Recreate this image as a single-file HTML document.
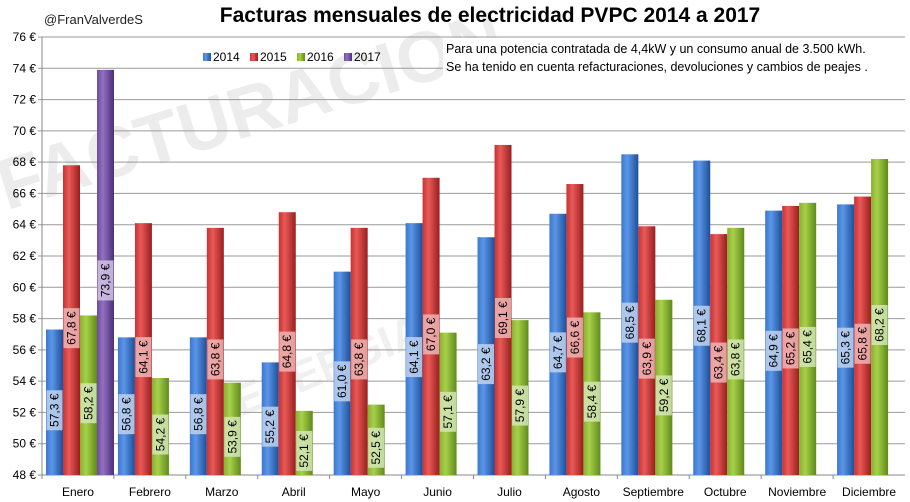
<!DOCTYPE html>
<html><head><meta charset="utf-8">
<style>
html,body{margin:0;padding:0;background:#fff;}
svg{display:block;font-family:"Liberation Sans",sans-serif;}
</style></head>
<body>
<svg id="chart" width="910" height="502" viewBox="0 0 910 502">
<defs>
<linearGradient id="g0" x1="0" x2="1"><stop offset="0" stop-color="#3a78d0"/><stop offset="0.35" stop-color="#5b96e6"/><stop offset="1" stop-color="#1d4f9a"/></linearGradient>
<linearGradient id="g1" x1="0" x2="1"><stop offset="0" stop-color="#c83232"/><stop offset="0.35" stop-color="#e85a58"/><stop offset="1" stop-color="#9a1e1e"/></linearGradient>
<linearGradient id="g2" x1="0" x2="1"><stop offset="0" stop-color="#86b02e"/><stop offset="0.35" stop-color="#a8d04a"/><stop offset="1" stop-color="#5f8a1a"/></linearGradient>
<linearGradient id="g3" x1="0" x2="1"><stop offset="0" stop-color="#6e4a9c"/><stop offset="0.35" stop-color="#9272c0"/><stop offset="1" stop-color="#4c2e78"/></linearGradient>
</defs>
<text x="250" y="135" font-size="72" font-weight="bold" fill="#ececec" transform="rotate(-17 250 110)" text-anchor="middle">FACTURACION</text>
<text x="330" y="380" font-size="44" font-weight="bold" fill="#f0f0f0" transform="rotate(-22 330 370)" text-anchor="middle">ENERGIA</text>
<g id="grid"></g>
<g id="bars"></g>
<g id="labels"></g>
<text x="44" y="24" font-size="13" fill="#222">@FranValverdeS</text>
<text x="490" y="22" font-size="21" font-weight="bold" text-anchor="middle" fill="#000">Facturas mensuales de electricidad PVPC  2014 a 2017</text>
<rect x="443" y="38" width="462" height="40" fill="#fff"/>
<text x="446" y="53" font-size="12.5" fill="#000">Para una potencia contratada de 4,4kW y un consumo anual de 3.500 kWh.</text>
<text x="446" y="71" font-size="12.5" fill="#000">Se ha tenido en cuenta refacturaciones, devoluciones y cambios de peajes .</text>
<g id="legend"></g>
</svg>
<script>
const categories=["Enero","Febrero","Marzo","Abril","Mayo","Junio","Julio","Agosto","Septiembre","Octubre","Noviembre","Diciembre"];
const seriesNames=["2014","2015","2016","2017"];
const s2014=[57.3,56.8,56.8,55.2,61.0,64.1,63.2,64.7,68.5,68.1,64.9,65.3];
const s2015=[67.8,64.1,63.8,64.8,63.8,67.0,69.1,66.6,63.9,63.4,65.2,65.8];
const s2016=[58.2,54.2,53.9,52.1,52.5,57.1,57.9,58.4,59.2,63.8,65.4,68.2];
const s2017=[73.9,null,null,null,null,null,null,null,null,null,null,null];
const yTicks=[48,50,52,54,56,58,60,62,64,66,68,70,72,74,76];
const series=[s2014,s2015,s2016,s2017];
const NS="http://www.w3.org/2000/svg";
const X0=42,X1=905,Y0=475,Y1=37,YMIN=48,YMAX=76;
const catW=(X1-X0)/categories.length;
const y=v=>Y0-(v-YMIN)/(YMAX-YMIN)*(Y0-Y1);
const xc=i=>X0+catW*i;
function mk(tag,attrs,parent){const e=document.createElementNS(NS,tag);for(const k in attrs)e.setAttribute(k,attrs[k]);parent.appendChild(e);return e;}
const grid=document.getElementById('grid'),bars=document.getElementById('bars'),labels=document.getElementById('labels'),legend=document.getElementById('legend');
yTicks.forEach(t=>{
  const l=mk('line',{x1:X0-4,x2:X1,y1:y(t),y2:y(t),stroke:t===YMIN?'#888':'#9a9a9a','stroke-width':1},grid);
  
  
  const tx=mk('text',{x:X0-6,y:y(t)+4,'font-size':12,'text-anchor':'end',fill:'#000'},grid);
  tx.textContent=t+' €';
  
  
});
const ax=mk('line',{x1:X0,x2:X0,y1:Y1,y2:Y0,stroke:'#888'},grid);


categories.forEach((c,i)=>{
  const tk=mk('line',{x1:xc(i),x2:xc(i),y1:Y0,y2:Y0+4,stroke:'#888'},grid);
  
  
  const tx=mk('text',{x:xc(i)+catW/2,y:Y0+21,'font-size':12,'text-anchor':'middle',fill:'#000'},grid);
  tx.textContent=c;
  
  
});
const lblFill=['rgba(190,210,240,0.85)','rgba(240,180,180,0.85)','rgba(210,230,180,0.85)','rgba(210,195,230,0.85)'];
const BW=17;
series.forEach((s,k)=>{
  s.forEach((v,i)=>{
    if(v==null)return;
    const bx=xc(i)+4+k*BW, top=y(v);
    const r=mk('rect',{x:bx,y:top,width:BW,height:Y0-top,fill:`url(#g${k})`},bars);
    
    
    const cy=(top+Y0)/2+8, cx=bx+BW/2;
    const bg=mk('rect',{x:cx-8,y:cy-20,width:16,height:40,fill:lblFill[k]},labels);
    
    
    const t=mk('text',{x:cx,y:cy,'font-size':12,'text-anchor':'middle','dominant-baseline':'central',fill:'#000',transform:`rotate(-90 ${cx} ${cy})`},labels);
    t.textContent=v.toFixed(1).replace('.',',')+' €';
    
    
  });
});
const lx=[203,250,297,344];
seriesNames.forEach((n,k)=>{
  const g=mk('g',{},legend);
  
  
  mk('rect',{x:lx[k],y:53,width:8,height:8,fill:`url(#g${k})`},g);
  const t=mk('text',{x:lx[k]+10,y:61,'font-size':12,fill:'#000'},g);
  t.textContent=n;
});
</script>
</body></html>
